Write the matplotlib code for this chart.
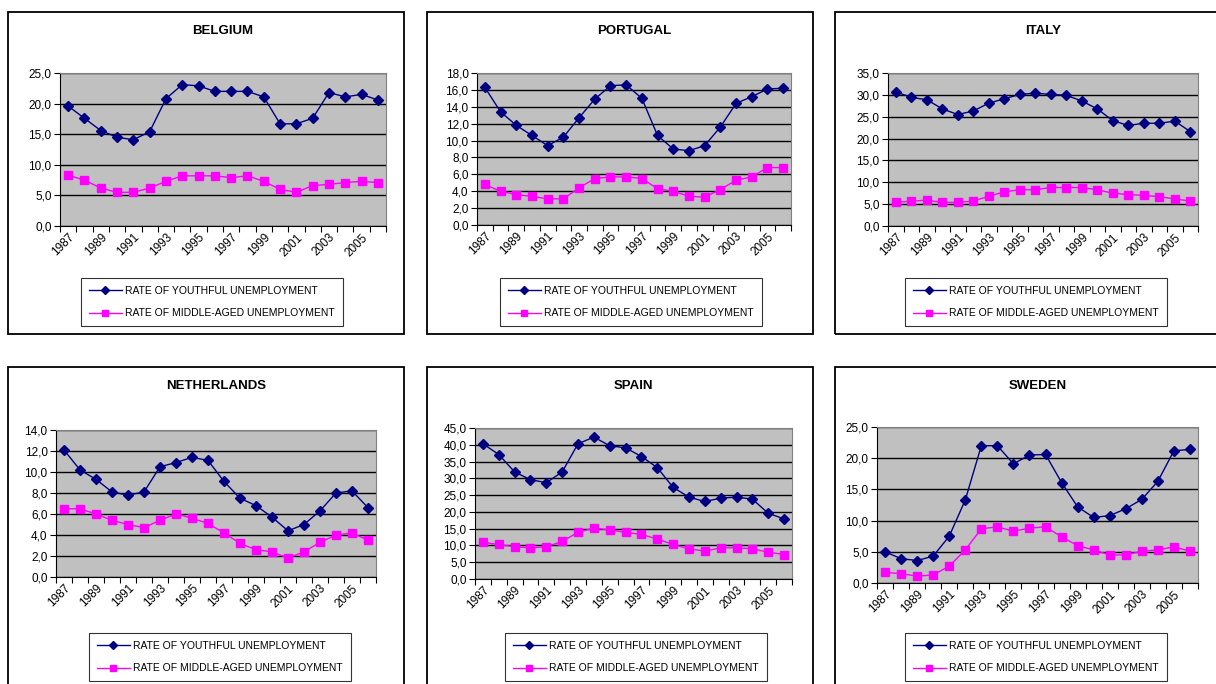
import matplotlib
matplotlib.use('Agg')
import matplotlib.pyplot as plt
from matplotlib.patches import Rectangle
from matplotlib.ticker import FuncFormatter, MultipleLocator

plt.rcParams['font.family'] = ['Liberation Sans', 'DejaVu Sans']

years = list(range(1987, 2007))
tick_years = years[::2]

countries = ['BELGIUM', 'PORTUGAL', 'ITALY', 'NETHERLANDS', 'SPAIN', 'SWEDEN']

youth_belgium = [19.6, 17.6, 15.6, 14.5, 14.1, 15.4, 20.8, 23.1, 22.9, 22.0,
                 22.0, 22.0, 21.1, 16.7, 16.7, 17.6, 21.8, 21.1, 21.5, 20.6]
middle_belgium = [8.3, 7.5, 6.2, 5.5, 5.5, 6.2, 7.3, 8.2, 8.2, 8.2,
                  7.9, 8.2, 7.3, 6.0, 5.5, 6.6, 6.8, 7.1, 7.3, 7.1]

youth_portugal = [16.3, 13.4, 11.8, 10.6, 9.4, 10.4, 12.7, 14.9, 16.5, 16.6,
                  15.0, 10.6, 9.0, 8.8, 9.4, 11.6, 14.4, 15.2, 16.1, 16.2]
middle_portugal = [4.8, 4.0, 3.6, 3.4, 3.1, 3.1, 4.4, 5.5, 5.7, 5.7,
                   5.5, 4.3, 4.0, 3.4, 3.3, 4.2, 5.3, 5.7, 6.8, 6.8]

youth_italy = [30.7, 29.4, 28.9, 26.8, 25.5, 26.3, 28.1, 29.1, 30.1, 30.4,
               30.1, 29.9, 28.6, 26.8, 24.1, 23.0, 23.5, 23.5, 24.0, 21.6]
middle_italy = [5.4, 5.7, 5.9, 5.4, 5.4, 5.7, 6.8, 7.8, 8.3, 8.3,
                8.8, 8.8, 8.8, 8.3, 7.5, 7.2, 7.0, 6.7, 6.2, 5.7]

youth_netherlands = [12.1, 10.2, 9.3, 8.1, 7.8, 8.1, 10.5, 10.9, 11.4, 11.1,
                     9.1, 7.5, 6.8, 5.7, 4.4, 5.0, 6.3, 8.0, 8.2, 6.6]
middle_netherlands = [6.5, 6.5, 6.0, 5.4, 5.0, 4.7, 5.4, 6.0, 5.6, 5.1,
                      4.2, 3.2, 2.6, 2.4, 1.8, 2.4, 3.3, 4.0, 4.2, 3.5]

youth_spain = [40.3, 37.1, 31.9, 29.6, 28.7, 31.9, 40.3, 42.3, 39.7, 39.1,
               36.5, 33.2, 27.3, 24.4, 23.1, 24.1, 24.4, 23.8, 19.6, 17.9]
middle_spain = [10.9, 10.3, 9.6, 9.3, 9.6, 11.2, 13.9, 15.2, 14.6, 13.9,
                13.3, 11.9, 10.3, 9.0, 8.3, 9.3, 9.3, 9.0, 8.0, 7.3]

youth_sweden = [5.0, 3.9, 3.6, 4.3, 7.5, 13.3, 22.0, 22.0, 19.1, 20.5,
                20.6, 16.1, 12.2, 10.5, 10.8, 11.9, 13.4, 16.3, 21.2, 21.4]
middle_sweden = [1.7, 1.5, 1.1, 1.3, 2.7, 5.3, 8.7, 9.0, 8.3, 8.8,
                 9.0, 7.4, 6.0, 5.3, 4.5, 4.5, 5.1, 5.3, 5.8, 5.1]

youth = [youth_belgium, youth_portugal, youth_italy,
         youth_netherlands, youth_spain, youth_sweden]
middle = [middle_belgium, middle_portugal, middle_italy,
          middle_netherlands, middle_spain, middle_sweden]
y_max = [25, 18, 35, 14, 45, 25]
y_step = [5, 2, 5, 2, 5, 5]

W, H = 1216, 684

# pixel boxes (left, top, right, bottom) for frame, plot area, legend
frames = [(8, 12, 404, 334), (427, 12, 813, 334), (835, 12, 1240, 334),
          (8, 367, 404, 700), (427, 367, 813, 700), (835, 367, 1240, 700)]
plot_areas = [(60, 73, 386, 226), (477, 73, 791, 225), (888, 73, 1198, 226),
              (56, 430, 376, 577), (475, 428, 792, 579), (877, 427, 1198, 583)]
legend_pos = [(81, 278), (500, 278), (905, 278),
              (89, 633), (505, 633), (905, 633)]
title_y = [31, 31, 31, 386, 386, 386]


def fig_rect(box):
    l, t, r, b = box
    return [l / W, 1 - b / H, (r - l) / W, (b - t) / H]


comma_fmt = FuncFormatter(lambda v, p: ('%.1f' % v).replace('.', ','))

fig = plt.figure(figsize=(W / 100, H / 100), dpi=100)

for i, name in enumerate(countries):
    l, t, r, b = frames[i]
    fig.patches.append(Rectangle((l / W, 1 - b / H), (r - l) / W, (b - t) / H,
                                 transform=fig.transFigure, fill=False,
                                 edgecolor='black', linewidth=1.3))

    ax = fig.add_axes(fig_rect(plot_areas[i]))
    ax.set_facecolor('#C0C0C0')
    x = list(range(len(years)))
    l1, = ax.plot(x, youth[i], color='#000080', marker='D', markersize=5,
                  linewidth=1.0, label='RATE OF YOUTHFUL UNEMPLOYMENT')
    l2, = ax.plot(x, middle[i], color='#FF00FF', marker='s', markersize=5.5,
                  linewidth=1.0, label='RATE OF MIDDLE-AGED UNEMPLOYMENT')

    ax.set_xlim(-0.5, len(years) - 0.5)
    ax.set_ylim(0, y_max[i])
    ax.yaxis.set_major_locator(MultipleLocator(y_step[i]))
    ax.yaxis.set_major_formatter(comma_fmt)
    ax.yaxis.grid(True, color='black', linewidth=1.0)
    ax.set_axisbelow(True)

    # category ticks sit between years, labels on every other year
    ax.set_xticks([k - 0.5 for k in range(len(years) + 1)])
    ax.set_xticklabels([])
    ax.set_xticks([years.index(yr) for yr in tick_years], minor=True)
    ax.set_xticklabels([str(yr) for yr in tick_years], minor=True,
                       rotation=45, ha='right', rotation_mode='anchor',
                       fontsize=8.5)
    ax.tick_params(axis='x', which='minor', length=0, pad=4)
    ax.tick_params(axis='x', which='major', length=4, width=0.8)
    ax.tick_params(axis='y', length=4, width=0.8, labelsize=8.5, pad=2)

    ax.spines['left'].set_color('black')
    ax.spines['bottom'].set_color('black')
    ax.spines['top'].set_color('#808080')
    ax.spines['right'].set_color('#808080')

    fig.text((plot_areas[i][0] + plot_areas[i][2]) / 2 / W, 1 - title_y[i] / H,
             name, ha='center', va='center', fontsize=9.5, fontweight='bold')

    lx, ly = legend_pos[i]
    leg = fig.legend(handles=[l1, l2], loc='upper left',
                     bbox_to_anchor=(lx / W, 1 - ly / H),
                     fontsize=7.5, frameon=True, fancybox=False,
                     edgecolor='black', handlelength=3.2, markerscale=0.9,
                     borderpad=0.75, labelspacing=1.2, handletextpad=0.3,
                     borderaxespad=0)
    leg.get_frame().set_linewidth(0.8)

fig.savefig('out.png', dpi=100)
